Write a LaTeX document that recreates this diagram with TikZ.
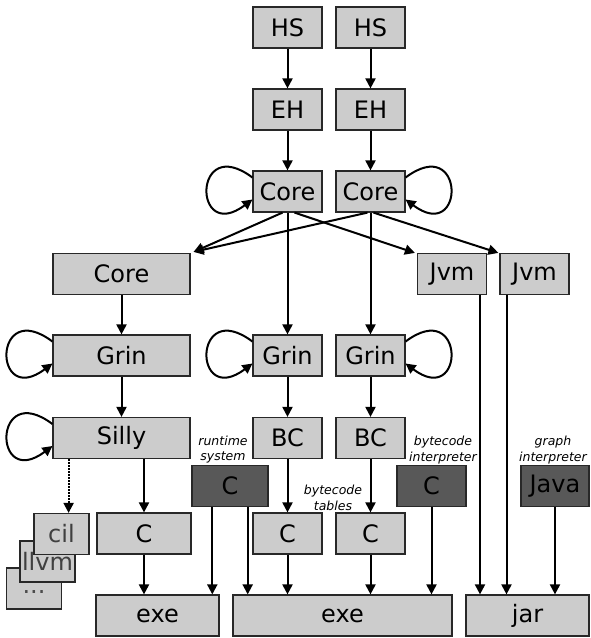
\documentclass[tikz,border=0pt]{standalone}
\usepackage{fontspec}
\setmainfont{DejaVu Sans}
\usepackage{tikz}
\usetikzlibrary{calc,arrows.meta}
\definecolor{boxgray}{RGB}{204,204,204}
\definecolor{darkgray}{RGB}{88,88,88}
\definecolor{boxline}{RGB}{40,40,40}

\tikzset{
  box/.style={draw=boxline,fill=boxgray,line width=1.2pt,minimum height=41pt,inner sep=0pt,font=\fontsize{24}{24}\selectfont},
  darkbox/.style={box,fill=darkgray},
  note/.style={font=\fontsize{12.5}{15.5}\selectfont\itshape,align=center,inner sep=0pt},
  flow/.style={->,line width=2pt},
}

\begin{document}
\begin{tikzpicture}[x=1pt,y=-1pt,>={Triangle[length=10pt,width=10pt]}]
    \useasboundingbox (0,0) rectangle (590,638);

    % two front end pipelines
    \node (HSa) at (287.5,27.5) [box,minimum width=69pt] {HS};
    \node (HSb) at (370.5,27.5) [box,minimum width=69pt] {HS};
    \node (EHa) at (287.5,109.5) [box,minimum width=69pt] {EH};
    \node (EHb) at (370.5,109.5) [box,minimum width=69pt] {EH};
    \node (CoreA) at (287.5,191.5) [box,minimum width=69pt] {Core};
    \node (CoreB) at (370.5,191.5) [box,minimum width=69pt] {Core};

    % back ends
    \node (CoreW) at (121.5,274) [box,minimum width=137pt] {Core};
    \node (JvmA) at (452,274) [box,minimum width=69pt] {Jvm};
    \node (JvmB) at (534.5,274) [box,minimum width=69pt] {Jvm};

    \node (GrinW) at (121.5,355.5) [box,minimum width=137pt] {Grin};
    \node (GrinA) at (287.5,355.5) [box,minimum width=69pt] {Grin};
    \node (GrinB) at (370.5,355.5) [box,minimum width=69pt] {Grin};

    \node (Silly) at (121.5,438) [box,minimum width=137pt] {Silly};
    \node (BCa) at (287.5,438) [box,minimum width=69pt] {BC};
    \node (BCb) at (370.5,438) [box,minimum width=69pt] {BC};

    % hand written parts
    \node (Crt) at (230,486) [darkbox,minimum width=76pt] {C};
    \node (Cbi) at (431.5,486) [darkbox,minimum width=69pt] {C};
    \node (Java) at (555,486) [darkbox,minimum width=68pt] {Java};

    \node (rtlbl) at (223,449.5) [note] {runtime\\system};
    \node (bilbl) at (443,450) [note] {bytecode\\interpreter};
    \node (gilbl) at (553,450) [note] {graph\\interpreter};
    \node (btlbl) at (333,498) [note] {bytecode\\tables};

    % other targets, stacked
    \node (dots) at (34,588.5) [box,minimum width=55pt,text=black!70] {\raisebox{-9pt}{...}};
    \node (llvm) at (47.5,561.5) [box,minimum width=55pt,text=black!75] {llvm};
    \node (cil) at (61.5,534) [box,minimum width=55pt,text=black!75] {cil};

    \node (CW) at (144,533.5) [box,minimum width=94pt] {C};
    \node (CA) at (287.5,533.5) [box,minimum width=69pt] {C};
    \node (CB) at (370.5,533.5) [box,minimum width=69pt] {C};

    \node (exeL) at (157.5,615.5) [box,minimum width=123pt] {exe};
    \node (exeM) at (342.5,615.5) [box,minimum width=219pt] {exe};
    \node (jar) at (527.5,615.5) [box,minimum width=123pt] {jar};

    % front end arrows
    \draw [flow] (HSa) -- (EHa);
    \draw [flow] (HSb) -- (EHb);
    \draw [flow] (EHa) -- (CoreA);
    \draw [flow] (EHb) -- (CoreB);

    % transformation loops
    \foreach \n in {CoreA,GrinW,GrinA,Silly}
      \draw [flow] ($ (\n.west) + (0,-14) $) .. controls +(-60,-45) and +(-60,45) .. ($ (\n.west) + (0,8) $);
    \foreach \n in {CoreB,GrinB}
      \draw [flow] ($ (\n.east) + (0,-14) $) .. controls +(60,-45) and +(60,45) .. ($ (\n.east) + (0,8) $);

    % fan out of Core
    \draw [flow] ($ (CoreA.south) + (-5,0) $) -- ($ (CoreW.north east) + (3,-1) $);
    \draw [flow] ($ (CoreB.south) + (-3,0) $) -- ($ (CoreW.north east) + (3,-1) $);
    \draw [flow] ($ (CoreA.south) + (7,0) $) -- ($ (JvmA.north west) + (-2,0) $);
    \draw [flow] ($ (CoreB.south) + (3,0) $) -- ($ (JvmB.north west) + (-1,0) $);
    \draw [flow] (CoreA) -- (GrinA);
    \draw [flow] (CoreB) -- (GrinB);
    \draw [flow] (CoreW) -- (GrinW);

    \draw [flow] (GrinW) -- (Silly);
    \draw [flow] (GrinA) -- (BCa);
    \draw [flow] (GrinB) -- (BCb);

    \draw [flow,densely dotted] (Silly.south -| cil.north east) +(-21,0) coordinate (s) -- (s |- cil.north);
    \draw [flow] (Silly.south -| CW) -- (CW);
    \draw [flow] (BCa) -- (CA);
    \draw [flow] (BCb) -- (CB);

    % into the executables
    \draw [flow] (CW) -- (CW |- exeL.north);
    \draw [flow] (Crt.230) -- (Crt.230 |- exeL.north);
    \draw [flow] (Crt.310) -- (Crt.310 |- exeM.north);
    \draw [flow] (CA) -- (CA |- exeM.north);
    \draw [flow] (CB) -- (CB |- exeM.north);
    \draw [flow] (Cbi) -- (Cbi |- exeM.north);

    \draw [flow] (JvmA.323) -- (JvmA.323 |- jar.north);
    \draw [flow] (JvmB.217) -- (JvmB.217 |- jar.north);
    \draw [flow] (Java) -- (Java |- jar.north);
\end{tikzpicture}
\end{document}
